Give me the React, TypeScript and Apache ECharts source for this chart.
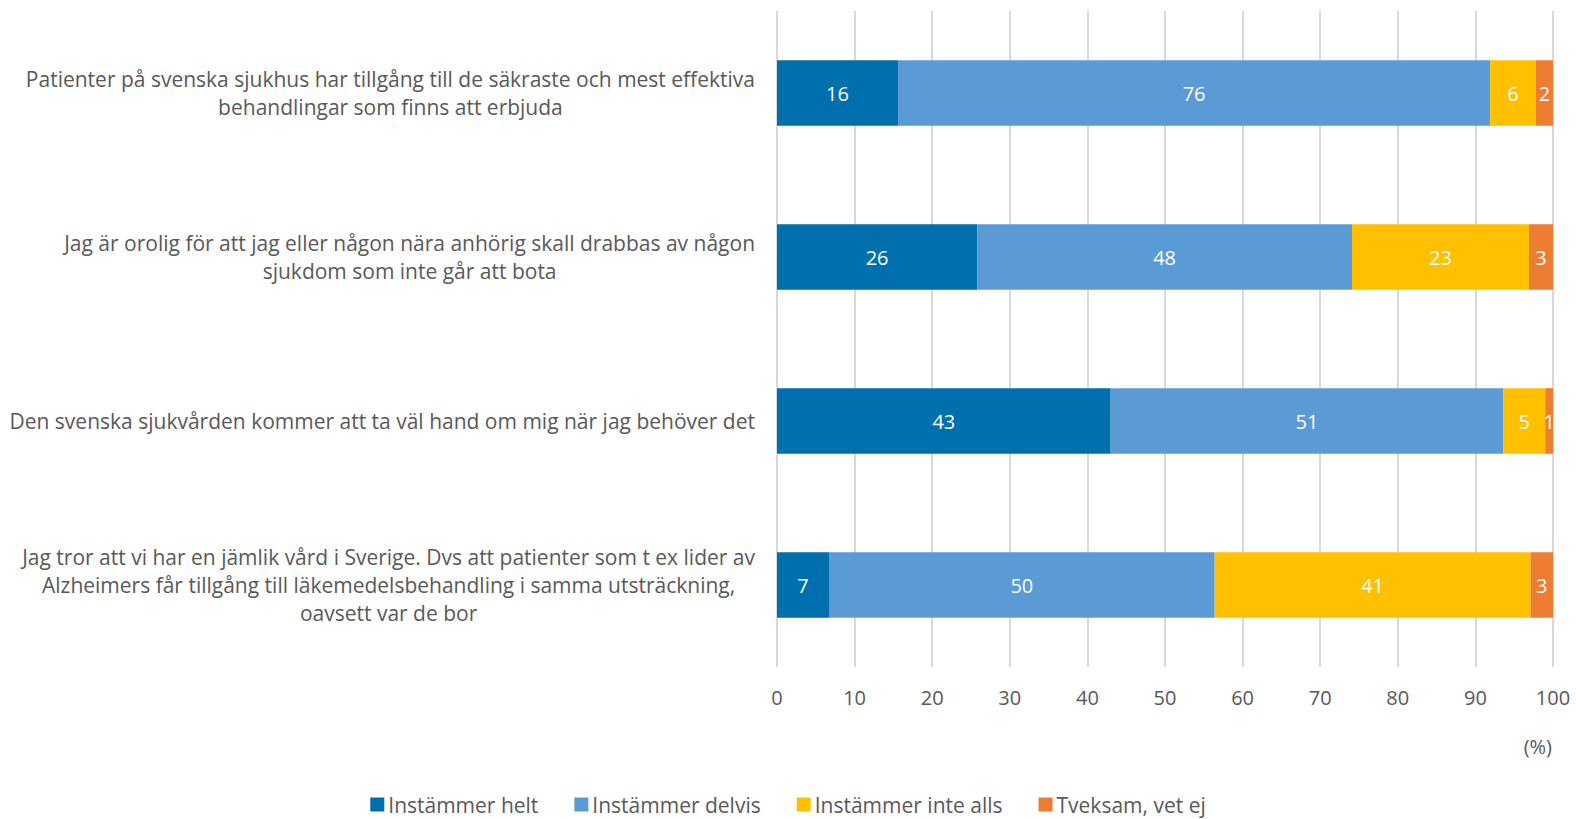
import React, { useEffect, useRef } from "react";
import * as echarts from "echarts";

const categories = [
  "Patienter på svenska sjukhus har tillgång till de säkraste och mest effektiva\nbehandlingar som finns att erbjuda",
  "Jag är orolig för att jag eller någon nära anhörig skall drabbas av någon\nsjukdom som inte går att bota",
  "Den svenska sjukvården kommer att ta väl hand om mig när jag behöver det",
  "Jag tror att vi har en jämlik vård i Sverige. Dvs att patienter som t ex lider av\nAlzheimers får tillgång till läkemedelsbehandling i samma utsträckning,\noavsett var de bor",
];

const seriesNames = ["Instämmer helt", "Instämmer delvis", "Instämmer inte alls", "Tveksam, vet ej"];

// values in category order (top to bottom)
const helt = [15.6, 25.8, 43.0, 6.7];
const delvis = [76.3, 48.3, 50.6, 49.7];
const inteAlls = [5.9, 22.8, 5.4, 40.7];
const tveksam = [2.2, 3.1, 1.0, 2.9];

const xTicks = [0, 10, 20, 30, 40, 50, 60, 70, 80, 90, 100];
const unitLabel = "(%)";

const colors = ["#006FAD", "#5B9BD5", "#FFC000", "#ED7D31"];
const FONT = "Open Sans";
const TEXT = "#595959";

export default function App() {
  const ref = useRef<HTMLDivElement>(null);
  useEffect(() => {
    if (!ref.current) return;
    const chart = echarts.init(ref.current, null, { renderer: "svg" });
    const allValues = [helt, delvis, inteAlls, tveksam];
    const revCats = [...categories].reverse();
    chart.setOption({
      animation: false,
      textStyle: { fontFamily: FONT },
      color: colors,
      grid: { left: 777, right: 23, top: 11, bottom: 152, containLabel: false },
      legend: {
        data: seriesNames,
        left: "center",
        top: 789,
        icon: "rect",
        itemWidth: 14,
        itemHeight: 14,
        itemGap: 36,
        textStyle: { fontFamily: FONT, fontSize: 21, lineHeight: 21, color: TEXT, padding: [0, 0, 0, -1] },
      },
      xAxis: {
        type: "value",
        min: xTicks[0],
        max: xTicks[xTicks.length - 1],
        interval: 10,
        axisLine: { show: false },
        axisTick: { show: false },
        splitLine: { show: true, lineStyle: { color: "#D9D9D9", width: 2 } },
        axisLabel: { fontFamily: FONT, fontSize: 20, color: TEXT, margin: 20 },
      },
      yAxis: {
        type: "category",
        data: revCats,
        axisLine: { show: false },
        axisTick: { show: false },
        axisLabel: {
          margin: 22,
          align: "right",
          formatter: (v: string) => v.split("\n").map((l) => `{c|${l}}`).join("\n"),
          rich: {
            c: { fontFamily: FONT, fontSize: 21, color: TEXT, align: "center", lineHeight: 28 },
          },
        },
      },
      series: seriesNames.map((name, i) => ({
        name,
        type: "bar",
        stack: "total",
        barCategoryGap: "60%",
        data: [...allValues[i]].reverse(),
        itemStyle: { color: colors[i] },
        label: {
          show: true,
          position: "inside",
          color: "#FFFFFF",
          fontFamily: FONT,
          fontSize: 20,
          formatter: (p: any) => String(Math.round(p.value)),
        },
      })),
      graphic: [
        {
          type: "text",
          right: 24,
          top: 736,
          style: { text: unitLabel, fontFamily: FONT, fontSize: 20, fill: TEXT },
        },
      ],
    });
    return () => chart.dispose();
  }, []);
  return (
    <div
      ref={ref}
      style={{ position: "fixed", left: 0, top: 0, width: 1576, height: 819, background: "#fff" }}
    />
  );
}
